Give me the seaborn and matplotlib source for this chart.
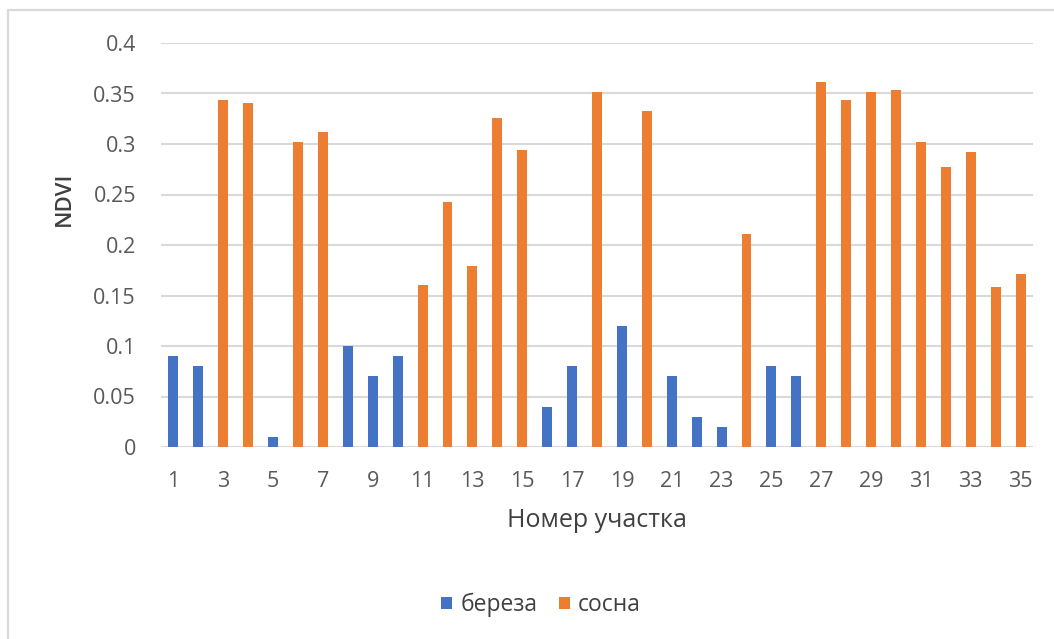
import matplotlib
matplotlib.use("Agg")
import matplotlib.pyplot as plt
from matplotlib.lines import Line2D
from matplotlib.patches import Patch
from matplotlib.ticker import FuncFormatter
import seaborn as sns
import pandas as pd

# Site numbers, tree species and NDVI values per site
sites = list(range(1, 36))
species = ["береза", "береза", "сосна", "сосна", "береза", "сосна", "сосна",
           "береза", "береза", "береза", "сосна", "сосна", "сосна", "сосна",
           "сосна", "береза", "береза", "сосна", "береза", "сосна", "береза",
           "береза", "береза", "сосна", "береза", "береза", "сосна", "сосна",
           "сосна", "сосна", "сосна", "сосна", "сосна", "сосна", "сосна"]
ndvi = [0.09, 0.08, 0.344, 0.341, 0.01, 0.302, 0.312,
        0.10, 0.07, 0.09, 0.16, 0.243, 0.179, 0.326,
        0.294, 0.04, 0.08, 0.351, 0.12, 0.333, 0.07,
        0.03, 0.02, 0.211, 0.08, 0.07, 0.361, 0.344,
        0.351, 0.353, 0.302, 0.277, 0.292, 0.158, 0.171]
species_order = ["береза", "сосна"]
colors = {"береза": "#4472C4", "сосна": "#ED7D31"}

df = pd.DataFrame({"site": [str(s) for s in sites], "ndvi": ndvi, "species": species})

sns.set_theme(style="white")
plt.rcParams["font.family"] = ["Open Sans", "DejaVu Sans"]
text_color = "#595959"
grid_color = "#D9D9D9"

W, H = 1054, 639
fig = plt.figure(figsize=(W / 100, H / 100), dpi=100)
ax = fig.add_axes([161 / W, 1 - 447 / H, (1033 - 161) / W, (447 - 43) / H])

sns.barplot(data=df, x="site", y="ndvi", hue="species", hue_order=species_order,
            order=[str(s) for s in sites], palette=colors, dodge=False,
            width=0.4, ax=ax, legend=False, saturation=1, linewidth=0)

ax.set_ylim(0, 0.4)
ax.set_xlim(-0.5, len(sites) - 0.5)
ax.set_yticks([i * 0.05 for i in range(9)])
ax.yaxis.set_major_formatter(FuncFormatter(lambda v, p: f"{v:g}"))
ax.set_xticks(range(0, len(sites), 2))
ax.set_xticklabels([str(s) for s in sites[::2]])

ax.grid(axis="y", color=grid_color, linewidth=1.5)
ax.grid(axis="x", visible=False)
ax.set_axisbelow(True)
for sp in ax.spines.values():
    sp.set_visible(False)
ax.axhline(0, color=grid_color, linewidth=1.5, zorder=0.5)

ax.tick_params(axis="y", length=0, pad=18, labelsize=15.5, labelcolor=text_color)
ax.tick_params(axis="x", length=0, pad=17, labelsize=15.5, labelcolor=text_color)

ax.set_xlabel("Номер участка", fontsize=18, color="#404040", labelpad=12)
ax.set_ylabel("NDVI", fontsize=16, color="#404040", fontweight="semibold")
ax.yaxis.set_label_coords((75 - 161) / (1033 - 161), (447 - 199) / (447 - 43))

handles = [Patch(facecolor=colors[s], edgecolor="none") for s in species_order]
fig.legend(handles, species_order, loc="center", bbox_to_anchor=(541 / W, 1 - 605 / H),
           ncol=2, frameon=False, fontsize=16.5, handlelength=0.48, handleheight=0.48,
           handletextpad=0.35, columnspacing=0.95, labelcolor="#404040",
           borderpad=0, borderaxespad=0)

# Light chart border along the top and left edges
fig.add_artist(Line2D([8 / W, 1], [1 - 9.5 / H, 1 - 9.5 / H], transform=fig.transFigure,
                      color=grid_color, linewidth=1.6))
fig.add_artist(Line2D([8 / W, 8 / W], [0, 1 - 9.5 / H], transform=fig.transFigure,
                      color=grid_color, linewidth=1.6))

fig.savefig("out.png", dpi=100, facecolor="white")
